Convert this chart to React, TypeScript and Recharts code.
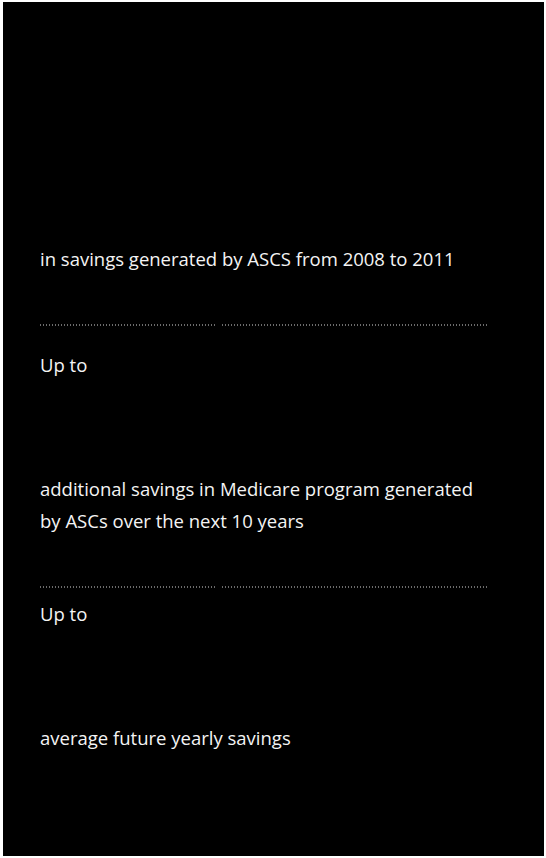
import React from 'react'
import { ComposedChart, Customized, Text } from 'recharts'

// stat blocks: the big figures are blank in the source, only the captions remain
const PREFIXES = ['', 'Up to', 'Up to']
const CAPTIONS = [
  ['in savings generated by ASCS from 2008 to 2011'],
  ['additional savings in Medicare program generated', 'by ASCs over the next 10 years'],
  ['average future yearly savings'],
]

const W = 546
const H = 858
const LEFT = 40
const RIGHT = 488
const PREFIX_Y = [0, 372, 621]
const CAPTION_Y = [266, 496, 745]
const LINE_H = 32
const RULE_Y = [325, 587]

const font = { fontFamily: '"Open Sans", sans-serif', fontSize: 18.5, fill: '#f4f4f4' }

function Panel() {
  return (
    <g>
      <rect x={3} y={2} width={541} height={854} fill="#000" />
      {RULE_Y.map((y) => (
        <g key={y}>
          <line x1={LEFT} x2={217} y1={y} y2={y} stroke="#d8d8d8" strokeWidth={1} strokeDasharray="1 2" />
          <line x1={222} x2={RIGHT} y1={y} y2={y} stroke="#d8d8d8" strokeWidth={1} strokeDasharray="1 2" />
        </g>
      ))}
      {PREFIXES.map((p, i) =>
        p ? (
          <Text key={'p' + i} x={LEFT} y={PREFIX_Y[i]} style={font} fill="#f4f4f4">
            {p}
          </Text>
        ) : null
      )}
      {CAPTIONS.map((lines, i) =>
        lines.map((t, j) => (
          <Text key={'c' + i + j} x={LEFT} y={CAPTION_Y[i] + j * LINE_H} style={font} fill="#f4f4f4">
            {t}
          </Text>
        ))
      )}
    </g>
  )
}

export default function App() {
  return (
    <div style={{ position: 'absolute', left: 0, top: 0, width: W, height: H, background: '#fff' }}>
      <ComposedChart width={W} height={H} data={[]} margin={{ top: 0, right: 0, bottom: 0, left: 0 }}>
        <Customized component={Panel} />
      </ComposedChart>
    </div>
  )
}
